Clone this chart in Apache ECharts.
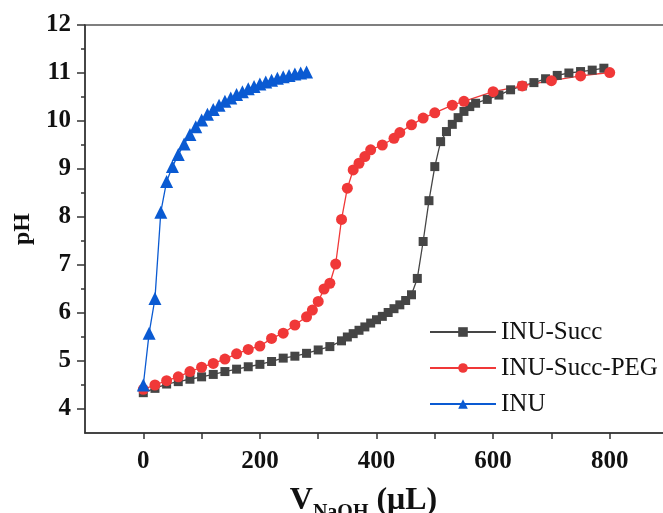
<!DOCTYPE html>
<html>
<head>
<meta charset="utf-8">
<script src="https://cdn.jsdelivr.net/npm/echarts@6/dist/echarts.min.js"></script>
<style>html,body{margin:0;padding:0;background:#fff;}#c{width:663px;height:513px;}</style>
</head>
<body>
<div id="c"></div>
<script>
// INU-Succ (black squares)
const succV = [0,20,40,60,80,100,120,140,160,180,200,220,240,260,280,300,320,340,350,360,370,380,390,400,410,420,430,440,450,460,470,480,490,500,510,520,530,540,550,560,570,590,610,630,650,670,690,710,730,750,770,790];
const succPH = [4.34,4.43,4.52,4.57,4.62,4.67,4.72,4.78,4.83,4.88,4.93,4.99,5.06,5.10,5.16,5.23,5.30,5.42,5.50,5.57,5.64,5.71,5.79,5.86,5.93,6.01,6.09,6.17,6.26,6.38,6.72,7.49,8.34,9.05,9.57,9.78,9.93,10.07,10.20,10.30,10.37,10.45,10.54,10.65,10.73,10.80,10.88,10.95,11.00,11.03,11.06,11.10];
// INU-Succ-PEG (red circles)
const pegV = [0,20,40,60,80,100,120,140,160,180,200,220,240,260,280,290,300,310,320,330,340,350,360,370,380,390,410,430,440,460,480,500,530,550,600,650,700,750,800];
const pegPH = [4.41,4.50,4.59,4.67,4.78,4.87,4.95,5.04,5.15,5.24,5.31,5.47,5.58,5.75,5.92,6.06,6.24,6.50,6.62,7.02,7.95,8.60,8.98,9.12,9.26,9.40,9.50,9.64,9.76,9.92,10.06,10.17,10.33,10.41,10.61,10.73,10.84,10.94,11.01];
// INU (blue triangles)
const inuV = [0,10,20,30,40,50,60,70,80,90,100,110,120,130,140,150,160,170,180,190,200,210,220,230,240,250,260,270,280];
const inuPH = [4.50,5.58,6.30,8.10,8.74,9.05,9.30,9.52,9.72,9.88,10.02,10.14,10.24,10.33,10.41,10.48,10.55,10.61,10.67,10.72,10.77,10.81,10.85,10.89,10.92,10.95,10.98,11.00,11.02];

const xLabels = [0,200,400,600,800];
const xTicks = [0,100,200,300,400,500,600,700,800];
const yLabels = [4,5,6,7,8,9,10,11,12];
const yMinor = [4.5,5.5,6.5,7.5,8.5,9.5,10.5,11.5];

const zip = (a,b) => a.map((v,i)=>[v,b[i]]);
const FONT = '"Liberation Serif","Times New Roman",serif';
const axisCol = '#333';

const chart = echarts.init(document.getElementById('c'), null, {renderer:'canvas'});
chart.setOption({
  animation:false,
  backgroundColor:'#fff',
  grid:{left:85, right:-5, top:25, bottom:80, outerBoundsMode:'none', containLabel:false,
        show:true, borderColor:'#555', borderWidth:1.5},
  legend:{
    orient:'vertical', left:424, top:314, itemWidth:66, itemHeight:12, itemGap:10,
    textStyle:{fontFamily:FONT, fontSize:25, color:'#111', lineHeight:26},
    data:['INU-Succ','INU-Succ-PEG','INU']
  },
  xAxis:{
    type:'value', min:-100, max:900,
    axisLine:{onZero:false, lineStyle:{color:axisCol, width:1.5}},
    axisTick:{customValues:xTicks, length:6, lineStyle:{color:axisCol, width:1.5}},
    axisLabel:{customValues:xLabels, fontFamily:FONT, fontWeight:'bold', fontSize:25, color:'#111', margin:16},
    splitLine:{show:false},
    name:'{v|V}{s|NaOH}{v| (μL)}', nameLocation:'middle', nameGap:32,
    nameTextStyle:{padding:[0,26,0,0], rich:{
      v:{fontFamily:FONT, fontWeight:'bold', fontSize:32, color:'#111', lineHeight:36},
      s:{fontFamily:FONT, fontWeight:'bold', fontSize:20, color:'#111', lineHeight:36, padding:[24,0,0,0]}
    }}
  },
  yAxis:[{
    type:'value', min:3.5, max:12,
    axisLine:{onZero:false, lineStyle:{color:axisCol, width:1.5}},
    axisTick:{customValues:yLabels, length:8, lineStyle:{color:axisCol, width:1.5}},
    axisLabel:{customValues:yLabels, fontFamily:FONT, fontWeight:'bold', fontSize:25, color:'#111', margin:14},
    splitLine:{show:false},
    name:'pH', nameLocation:'middle', nameGap:42,
    nameTextStyle:{fontFamily:FONT, fontWeight:'bold', fontSize:24, color:'#111'}
  },{
    type:'value', min:3.5, max:12, position:'left',
    axisLine:{show:false, onZero:false},
    axisTick:{customValues:yMinor, length:4, lineStyle:{color:axisCol, width:1.5}},
    axisLabel:{show:false},
    splitLine:{show:false}
  }],
  series:[
    {name:'INU-Succ', type:'line', data:zip(succV,succPH), symbol:'rect', symbolSize:9,
     itemStyle:{color:'#454545'}, lineStyle:{color:'#454545', width:1.3}},
    {name:'INU-Succ-PEG', type:'line', data:zip(pegV,pegPH), symbol:'circle', symbolSize:11,
     itemStyle:{color:'#f03838'}, lineStyle:{color:'#f03838', width:1.3}},
    {name:'INU', type:'line', data:zip(inuV,inuPH), symbol:'triangle', symbolSize:13,
     itemStyle:{color:'#0a5ad2'}, lineStyle:{color:'#0a5ad2', width:1.3}}
  ]
});
</script>
</body>
</html>
